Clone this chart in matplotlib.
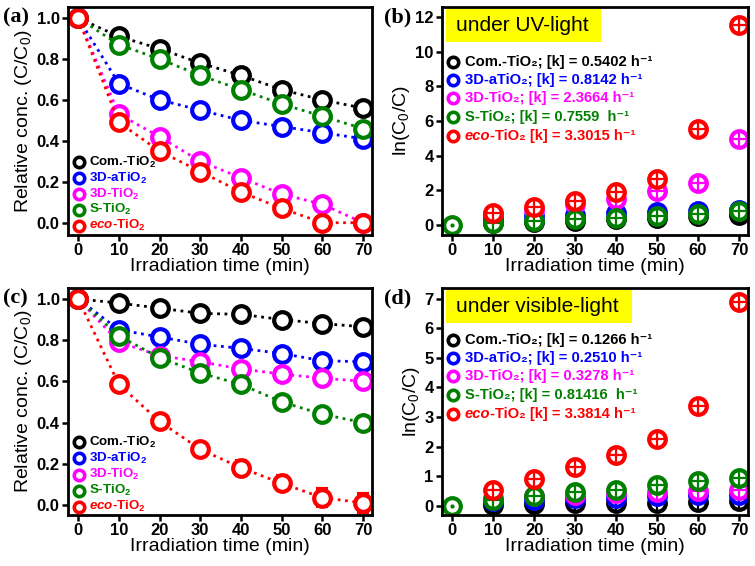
import matplotlib
matplotlib.use("Agg")
import matplotlib.pyplot as plt
from matplotlib.patches import Rectangle

plt.rcParams['font.family'] = ['Liberation Sans', 'DejaVu Sans']
plt.rcParams['mathtext.fontset'] = 'custom'
plt.rcParams['mathtext.rm'] = 'Liberation Sans'
plt.rcParams['mathtext.bf'] = 'Liberation Sans:bold'
plt.rcParams['mathtext.it'] = 'Liberation Sans:italic:bold'

# ---------------- data ----------------
time_min = [0, 10, 20, 30, 40, 50, 60, 70]
samples = ["Com.-TiO2", "3D-aTiO2", "3D-TiO2", "S-TiO2", "eco-TiO2"]
colors = ["#000000", "#0000ff", "#ff00ff", "#008000", "#ff0000"]

# (a) UV, C/C0
uv_com = [1.0, 0.91, 0.85, 0.78, 0.72, 0.65, 0.60, 0.56]
uv_3da = [1.0, 0.68, 0.60, 0.55, 0.50, 0.47, 0.44, 0.41]
uv_3d = [1.0, 0.53, 0.42, 0.30, 0.22, 0.14, 0.09, 0.0]
uv_s = [1.0, 0.87, 0.80, 0.72, 0.65, 0.58, 0.52, 0.46]
uv_eco = [1.0, 0.49, 0.35, 0.25, 0.15, 0.07, 0.0, 0.0]
uv_err = [0.0, 0.02, 0.02, 0.02, 0.02, 0.02, 0.02, 0.02]

# (b) UV, ln(C0/C)
uvk_com = [0, 0.09, 0.16, 0.25, 0.33, 0.43, 0.51, 0.58]
uvk_3da = [0, 0.39, 0.51, 0.60, 0.69, 0.75, 0.82, 0.89]
uvk_3d = [0, 0.63, 0.87, 1.20, 1.51, 1.97, 2.41, 4.95]
uvk_s = [0, 0.14, 0.22, 0.33, 0.43, 0.54, 0.65, 0.78]
uvk_eco = [0, 0.71, 1.05, 1.39, 1.90, 2.66, 5.52, 11.55]
uv_k_values = ["0.5402", "0.8142", "2.3664", "0.7559 ", "3.3015"]

# (c) visible, C/C0
vis_com = [1.0, 0.98, 0.955, 0.93, 0.925, 0.90, 0.88, 0.865]
vis_3da = [1.0, 0.85, 0.815, 0.78, 0.76, 0.735, 0.70, 0.695]
vis_3d = [1.0, 0.79, 0.725, 0.695, 0.66, 0.635, 0.615, 0.60]
vis_s = [1.0, 0.82, 0.715, 0.64, 0.585, 0.50, 0.44, 0.40]
vis_eco = [1.0, 0.585, 0.405, 0.27, 0.18, 0.105, 0.035, 0.01]
vis_err = [0.0, 0.02, 0.02, 0.02, 0.02, 0.02, 0.02, 0.02]
vis_eco_err = [0.0, 0.025, 0.025, 0.03, 0.035, 0.035, 0.04, 0.045]

# (d) visible, ln(C0/C)
visk_com = [0, 0.02, 0.05, 0.07, 0.08, 0.10, 0.13, 0.15]
visk_3da = [0, 0.15, 0.20, 0.25, 0.27, 0.31, 0.36, 0.36]
visk_3d = [0, 0.24, 0.31, 0.36, 0.41, 0.45, 0.49, 0.51]
visk_s = [0, 0.20, 0.34, 0.45, 0.53, 0.69, 0.82, 0.92]
visk_eco = [0, 0.54, 0.90, 1.31, 1.71, 2.26, 3.37, 6.90]
vis_k_values = ["0.1266", "0.2510", "0.3278", "0.81416 ", "3.3814"]

conc_labels = ["Com.-TiO$_\\mathbf{2}$", "3D-aTiO$_\\mathbf{2}$", "3D-TiO$_\\mathbf{2}$",
               "S-TiO$_\\mathbf{2}$", "$\\mathit{eco}$-TiO$_\\mathbf{2}$"]
k_prefixes = ["Com.-TiO\u2082; ", "3D-aTiO\u2082; ", "3D-TiO\u2082; ", "S-TiO\u2082; ", "-TiO\u2082 "]

fig = plt.figure(figsize=(7.55, 5.66), dpi=100)
W, H = 755, 566


def add_ax(l, t, r, b):
    return fig.add_axes([l / W, 1 - b / H, (r - l) / W, (b - t) / H])


axA = add_ax(68, 7, 372, 235)
axB = add_ax(442, 7, 748, 235)
axC = add_ax(68, 288, 372, 515)
axD = add_ax(442, 288, 748, 515)

MS = 12
MEW = 3.0


def style(ax, ylim, yticks, yfmt, ylabel):
    ax.set_xlim(-2.5, 72.2)
    ax.set_ylim(*ylim)
    ax.set_xticks(time_min)
    ax.set_yticks(yticks)
    ax.set_yticklabels([yfmt.format(v) for v in yticks])
    for s in ax.spines.values():
        s.set_linewidth(2.0)
    ax.tick_params(direction='out', width=1.8, length=4, labelsize=12, pad=2)
    for lab in ax.get_xticklabels() + ax.get_yticklabels():
        lab.set_fontweight('bold')
    ax.set_xlabel("Irradiation time (min)", fontsize=14, labelpad=0)
    ax.set_ylabel(ylabel, fontsize=14, labelpad=2)


def conc_panel(ax, series, errs):
    for vals, err, c in zip(series, errs, colors):
        ax.errorbar(time_min, vals, yerr=err, color=c, ls=':', lw=2.0,
                    marker='o', ms=MS, mfc='white', mec=c, mew=MEW,
                    ecolor=c, elinewidth=1.6, capsize=4.5, capthick=1.6)


def k_panel(ax, series):
    for vals, c in zip(series, colors):
        ax.plot(time_min[1:], vals[1:], ls='none', marker='o', ms=MS,
                mfc='white', mec=c, mew=MEW)
        ax.plot(time_min[1:], vals[1:], ls='none', marker='+', ms=MS,
                mec=c, mew=1.6)
    ax.plot(time_min[:1], series[3][:1], ls='none', marker='o', ms=MS,
            mfc='white', mec=colors[3], mew=MEW)
    ax.plot(time_min[:1], series[3][:1], ls='none', marker='.', ms=4,
            color=colors[3])


def marker(ax, x, y, c):
    ax.plot([x], [y], transform=ax.transAxes, ls='none', marker='o',
            ms=7.5, mfc='white', mec=c, mew=2.6, clip_on=False, zorder=5)


def legend_conc(ax, ys):
    for lab, c, y in zip(conc_labels, colors, ys):
        marker(ax, 0.036, y, c)
        ax.text(0.068, y, lab, transform=ax.transAxes, color=c, fontsize=9.6,
                fontweight='bold', va='center', ha='left', zorder=5)


def legend_k(ax, values, ys):
    fs = 10.6
    for i, (pre, val, c, y) in enumerate(zip(k_prefixes, values, colors, ys)):
        marker(ax, 0.036, y, c)
        x0 = 0.074
        if i == 4:
            t = ax.text(x0, y, "eco", transform=ax.transAxes, color=c, fontsize=fs,
                        fontweight='bold', style='italic', va='center', ha='left', zorder=5)
            fig.canvas.draw()
            bb = t.get_window_extent().transformed(ax.transAxes.inverted())
            x0 = bb.x1
        ax.text(x0, y, pre + "[k] = " + val + " h\u207b\u00b9", transform=ax.transAxes,
                color=c, fontsize=fs, fontweight='bold', va='center', ha='left',
                zorder=5)


conc_panel(axA, [uv_com, uv_3da, uv_3d, uv_s, uv_eco], [uv_err] * 5)
style(axA, (-0.06, 1.054), [0.0, 0.2, 0.4, 0.6, 0.8, 1.0], "{:.1f}",
      "Relative conc. (C/C$_0$)")
legend_conc(axA, [0.320, 0.250, 0.180, 0.110, 0.040])

k_panel(axB, [uvk_com, uvk_3da, uvk_3d, uvk_s, uvk_eco])
style(axB, (-0.58, 12.58), [0, 2, 4, 6, 8, 10, 12], "{:d}", "ln(C$_0$/C)")
legend_k(axB, uv_k_values, [0.759, 0.680, 0.601, 0.518, 0.436])

conc_panel(axC, [vis_com, vis_3da, vis_3d, vis_s, vis_eco],
           [vis_err, vis_err, vis_err, vis_err, vis_eco_err])
style(axC, (-0.049, 1.053), [0.0, 0.2, 0.4, 0.6, 0.8, 1.0], "{:.1f}",
      "Relative conc. (C/C$_0$)")
legend_conc(axC, [0.320, 0.249, 0.178, 0.107, 0.036])

k_panel(axD, [visk_com, visk_3da, visk_3d, visk_s, visk_eco])
style(axD, (-0.32, 7.37), [0, 1, 2, 3, 4, 5, 6, 7], "{:d}", "ln(C$_0$/C)")
legend_k(axD, vis_k_values, [0.771, 0.692, 0.612, 0.529, 0.447])

# yellow title boxes
for ax, txt, x1 in [(axB, "under UV-light", 0.52), (axD, "under visible-light", 0.62)]:
    ax.add_patch(Rectangle((0.013, 0.845), x1 - 0.013, 0.145, transform=ax.transAxes,
                           facecolor='#ffff00', edgecolor='none', zorder=3))
    ax.text(0.045, 0.917, txt, transform=ax.transAxes, fontsize=15,
            va='center', ha='left', zorder=4)

# panel labels
for lab, x, y in [("(a)", 3, 17), ("(b)", 384, 17), ("(c)", 3, 298), ("(d)", 384, 298)]:
    fig.text(x / W, 1 - y / H, lab, fontsize=16, fontweight='bold',
             family='Liberation Serif', va='center', ha='left')

fig.savefig("out.png", dpi=100)
